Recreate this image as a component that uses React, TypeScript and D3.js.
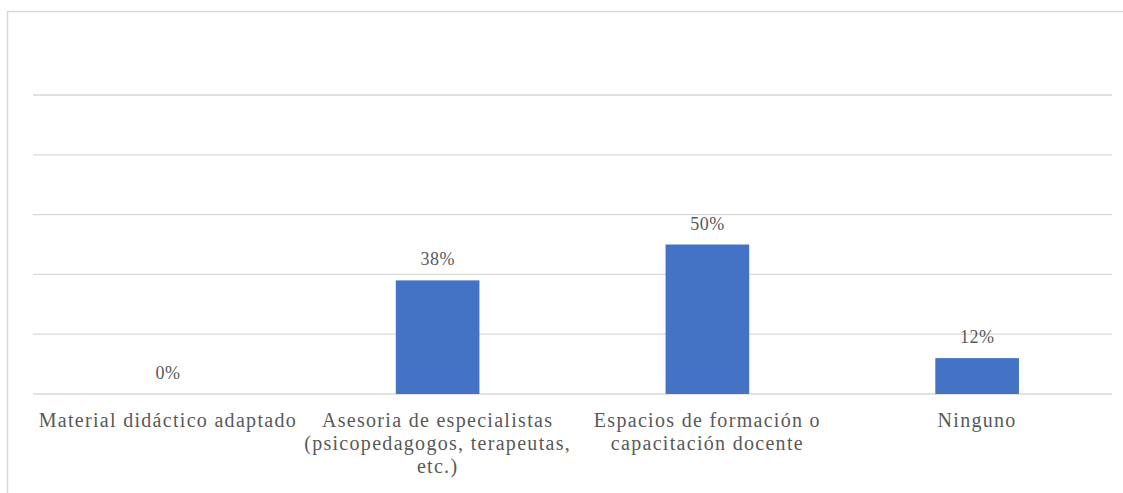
import React from "react";
import * as d3 from "d3";

const categories: string[][] = [
  ["Material didáctico adaptado"],
  ["Asesoria de especialistas", "(psicopedagogos, terapeutas,", "etc.)"],
  ["Espacios de formación o", "capacitación docente"],
  ["Ninguno"],
];
const values: number[] = [0, 0.38, 0.5, 0.12];
const valueLabels: string[] = ["0%", "38%", "50%", "12%"];
const yTicks: number[] = [0, 0.2, 0.4, 0.6, 0.8, 1.0];

export default function App() {
  const W = 1123, H = 493;
  const left = 33, right = 1112, top = 95, bottom = 394;
  const x = d3.scaleBand<number>().domain(d3.range(categories.length)).range([left, right]).paddingInner(0.69).paddingOuter(0.345);
  const y = d3.scaleLinear().domain([0, 1]).range([bottom, top]);
  const band = d3.scaleBand<number>().domain(d3.range(categories.length)).range([left, right]);
  const font = "'Liberation Serif', 'Tinos', 'Times New Roman', Times, 'Noto Serif', 'DejaVu Serif', serif";
  return (
    <svg width={W} height={H} style={{ position: "absolute", left: 0, top: 0, background: "#fff" }}>
      <rect x={7.5} y={11.5} width={W + 10} height={H + 10} fill="#fff" stroke="#d9d9d9" strokeWidth={1.5} />
      {yTicks.map((t) => (
        <line key={t} x1={left} x2={right} y1={y(t)} y2={y(t)} stroke="#d9d9d9" strokeWidth={1.3} />
      ))}
      {values.map((v, i) => (
        <rect key={i} x={x(i)} y={y(v)} width={x.bandwidth()} height={bottom - y(v)} fill="#4472c4" />
      ))}
      {values.map((v, i) => (
        <text key={"l" + i} x={x(i)! + x.bandwidth() / 2} y={y(v) - 15} textAnchor="middle" style={{ fontFamily: font }} fontSize={18} letterSpacing={0.5} fill="#595959">
          {valueLabels[i]}
        </text>
      ))}
      {categories.map((lines, i) => (
        <text key={"c" + i} x={band(i)! + band.bandwidth() / 2} y={427} textAnchor="middle" style={{ fontFamily: font }} fontSize={20} letterSpacing={1.3} fill="#595959">
          {lines.map((ln, j) => (
            <tspan key={j} x={band(i)! + band.bandwidth() / 2} dy={j === 0 ? 0 : 23}>{ln}</tspan>
          ))}
        </text>
      ))}
    </svg>
  );
}
